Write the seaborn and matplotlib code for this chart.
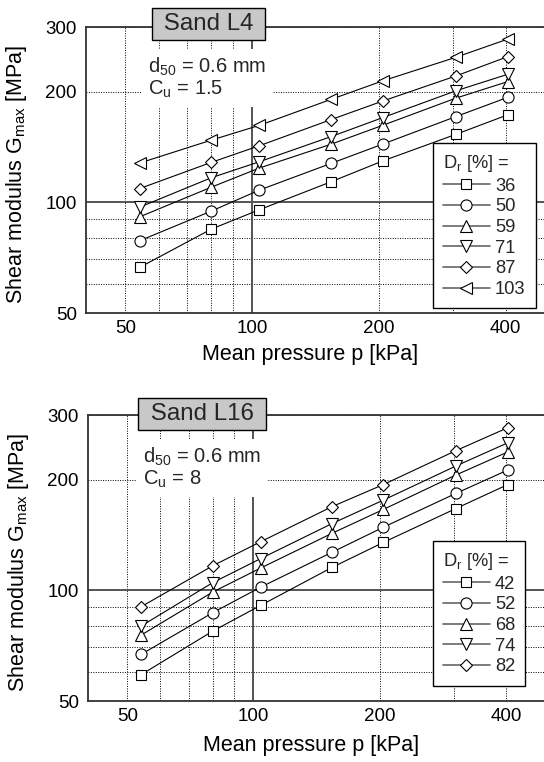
import numpy as np
import pandas as pd
import matplotlib
matplotlib.use("Agg")
import matplotlib.pyplot as plt
import seaborn as sns
from matplotlib.ticker import FixedLocator, FixedFormatter, NullFormatter
from matplotlib.lines import Line2D

# ---------------- data ----------------
pressure = [54, 80, 104, 154, 204, 304, 404]

l4_dr = ["36", "50", "59", "71", "87", "103"]
l4_g36 = [66.5, 84.6, 95.5, 113.8, 129.6, 153, 173]
l4_g50 = [78.6, 94.7, 108, 127.7, 144, 171, 193]
l4_g59 = [91.3, 110, 124, 144, 162, 192, 213]
l4_g71 = [97, 116.7, 129, 151, 170, 201, 223]
l4_g87 = [109, 128.5, 142.6, 168, 188.6, 220.6, 249]
l4_g103 = [127.9, 147.7, 162, 190.7, 214, 248, 278]
l4_markers = ["s", "o", "^", "v", "D", "<"]

l16_dr = ["42", "52", "68", "74", "82"]
l16_g42 = [59, 77.5, 91, 115.5, 135, 167, 194]
l16_g52 = [67, 87, 102, 127, 148.5, 183.6, 212.5]
l16_g68 = [75.6, 99, 115, 143, 166, 206, 238]
l16_g74 = [80, 105, 122, 152, 176, 218, 252]
l16_g82 = [90.3, 116.7, 135.6, 169, 194, 240, 277]
l16_markers = ["s", "o", "^", "v", "D"]

x_ticks = [50, 100, 200, 400]
x_minor = [60, 70, 80, 90, 300]
y_ticks = [50, 100, 200, 300]
y_minor = [60, 70, 80, 90]

# ---------------- style ----------------
sns.set_theme(style="white")
plt.rcParams["font.family"] = ["Liberation Sans", "DejaVu Sans"]
plt.rcParams["mathtext.default"] = "regular"

W, H = 544, 762
fig = plt.figure(figsize=(W / 100, H / 100), dpi=100)


def rect(l, t, r, b):
    return [l / W, 1 - b / H, (r - l) / W, (b - t) / H]


msz = {"s": 7, "o": 8, "^": 8.3, "v": 8.3, "D": 6.4, "<": 8.3}


def draw(ax, drs, gvals, markers, name, cu, name_xy, txt_xy, leg_xy, xl_y):
    df = pd.DataFrame({
        "p": np.tile(pressure, len(drs)),
        "G": np.concatenate(gvals),
        "Dr": np.repeat(drs, len(pressure)),
    })
    sns.lineplot(data=df, x="p", y="G", hue="Dr", style="Dr",
                 hue_order=drs, style_order=drs,
                 palette=["black"] * len(drs), markers=markers, dashes=False,
                 estimator=None, legend=False, ax=ax, lw=0.8,
                 markerfacecolor="white", markeredgecolor="black",
                 markeredgewidth=0.8, zorder=3)
    for ln in ax.lines:
        ln.set_markersize(msz.get(ln.get_marker(), 8))

    ax.set_xscale("log")
    ax.set_yscale("log")
    ax.set_xlim(40.3, 493)
    ax.set_ylim(50, 300)
    ax.xaxis.set_major_locator(FixedLocator(x_ticks))
    ax.xaxis.set_major_formatter(FixedFormatter([str(v) for v in x_ticks]))
    ax.xaxis.set_minor_locator(FixedLocator(x_minor))
    ax.xaxis.set_minor_formatter(NullFormatter())
    ax.yaxis.set_major_locator(FixedLocator(y_ticks))
    ax.yaxis.set_major_formatter(FixedFormatter([str(v) for v in y_ticks]))
    ax.yaxis.set_minor_locator(FixedLocator(y_minor))
    ax.yaxis.set_minor_formatter(NullFormatter())
    ax.set_axisbelow(True)
    ax.grid(True, which="both", ls=(0, (1, 1.5)), lw=0.7, color="black")
    ax.tick_params(which="both", length=0, labelsize=13.5, colors="black")
    ax.tick_params(axis="x", pad=4.7)
    ax.tick_params(axis="y", pad=6.5)
    ax.axvline(100, color="#555555", lw=1.4, zorder=1.5)
    ax.axhline(100, color="#555555", lw=1.4, zorder=1.5)
    for s in ["left", "bottom", "top"]:
        ax.spines[s].set_color("#333333")
        ax.spines[s].set_linewidth(1.3)
    ax.spines["right"].set_visible(False)

    ax.set_xlabel("Mean pressure p [kPa]", fontsize=15.5, color="black")
    ax.set_ylabel("Shear modulus G$_{max}$ [MPa]", fontsize=15.5, color="black")
    ax.xaxis.set_label_coords(0.49, xl_y)
    ax.yaxis.set_label_coords(-0.1245, 0.485)

    fig.text(name_xy[0] / W, 1 - name_xy[1] / H, " " + name + " ",
             fontsize=17.4, ha="center", va="center", zorder=10,
             bbox=dict(boxstyle="square,pad=0.22", fc="#c8c8c8", ec="black", lw=1.0))
    fig.text(txt_xy[0] / W, 1 - txt_xy[1] / H,
             "d$_{50}$ = 0.6 mm\nC$_{u}$ = " + cu,
             fontsize=14.5, ha="left", va="top", linespacing=1.0, zorder=9,
             bbox=dict(boxstyle="square,pad=0.35", fc="white", ec="none"))

    handles = [Line2D([], [], color="#666666", lw=1.2, marker=m,
                      markersize=msz[m], markerfacecolor="white",
                      markeredgecolor="black", markeredgewidth=0.8)
               for m in markers]
    leg = ax.legend(handles, drs, title="D$_r$ [%] =", loc="upper left",
                    bbox_to_anchor=(leg_xy[0] / W, 1 - leg_xy[1] / H),
                    bbox_transform=fig.transFigure, fontsize=13.2,
                    title_fontsize=13.2, handlelength=2.55, handletextpad=0.28,
                    labelspacing=0.2, borderpad=0.55, borderaxespad=0,
                    fancybox=False, framealpha=1, edgecolor="black",
                    alignment="left")
    leg.get_frame().set_linewidth(1.0)


ax1 = fig.add_axes(rect(86, 27, 544, 313))
draw(ax1, l4_dr, [l4_g36, l4_g50, l4_g59, l4_g71, l4_g87, l4_g103], l4_markers,
     "Sand L4", "1.5", (208.5, 24), (148, 56), (433, 143), -0.11)

ax2 = fig.add_axes(rect(88, 415, 544, 701))
draw(ax2, l16_dr, [l16_g42, l16_g52, l16_g68, l16_g74, l16_g82], l16_markers,
     "Sand L16", "8", (202, 414), (143, 446), (433, 541), -0.12)

fig.savefig("out.png", dpi=100)
